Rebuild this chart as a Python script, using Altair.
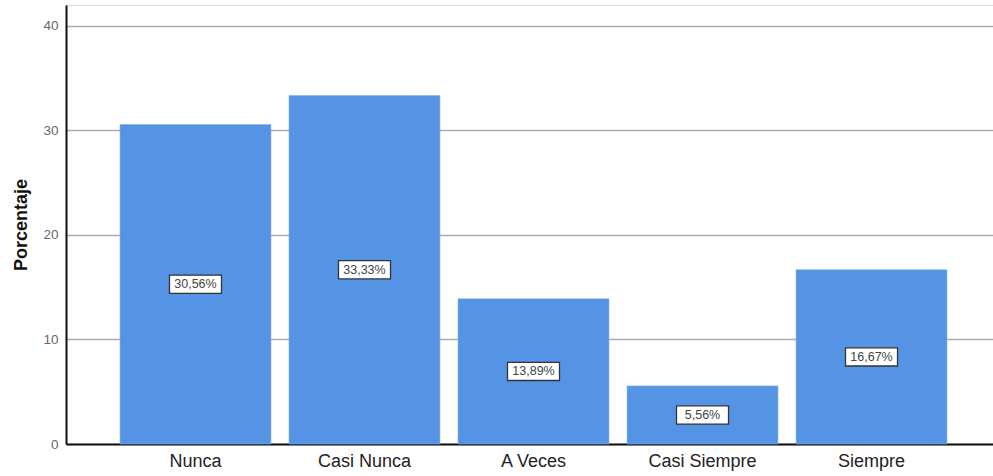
import altair as alt
import pandas as pd

# Response categories and their percentages
categorias = ["Nunca", "Casi Nunca", "A Veces", "Casi Siempre", "Siempre"]
porcentajes = [30.56, 33.33, 13.89, 5.56, 16.67]

df = pd.DataFrame({"categoria": categorias, "porcentaje": porcentajes})
df["mitad"] = df["porcentaje"] / 2
df["etiqueta"] = df["porcentaje"].map(lambda v: f"{v:.2f}".replace(".", ",") + "%")

FONT = "Liberation Sans"

x_enc = alt.X(
    "categoria:N",
    sort=categorias,
    title=None,
    scale=alt.Scale(paddingInner=0.107, paddingOuter=0.296, align=0.54),
    axis=alt.Axis(
        labelAngle=0,
        labelFontSize=18,
        labelColor="#222222",
        labelFont=FONT,
        labelPadding=8,
        ticks=False,
        domainColor="#111111",
        domainWidth=2,
        grid=False,
    ),
)

y_scale = alt.Scale(domain=[0, 42], nice=False)

bars = alt.Chart(df).mark_bar(color="#5594e4", stroke="#7eaeea", strokeWidth=0.6).encode(
    x=x_enc,
    y=alt.Y(
        "porcentaje:Q",
        scale=y_scale,
        title="Porcentaje",
        axis=alt.Axis(
            values=[0, 10, 20, 30, 40],
            labelFontSize=13.5,
            labelColor="#666666",
            labelFont=FONT,
            labelPadding=8,
            ticks=False,
            domainColor="#111111",
            domainWidth=2,
            gridColor="#ababab",
            gridWidth=1.5,
            titleFont=FONT,
            titleFontSize=18,
            titleFontWeight="bold",
            titleColor="#111111",
            titlePadding=12,
        ),
    ),
)

# Boxed value labels at mid-height of each bar
box_path = "M-1,-0.35 L1,-0.35 L1,0.35 L-1,0.35 Z"
cajas = alt.Chart(df).mark_point(
    shape=box_path, size=2704, filled=True, fill="white", stroke="#333333", strokeWidth=1.3, opacity=1
).encode(
    x=alt.X("categoria:N", sort=categorias),
    y=alt.Y("mitad:Q", scale=y_scale),
)

textos = alt.Chart(df).mark_text(fontSize=12.5, font=FONT, color="#444444", baseline="middle").encode(
    x=alt.X("categoria:N", sort=categorias),
    y=alt.Y("mitad:Q", scale=y_scale),
    text="etiqueta:N",
)

chart = (
    alt.layer(bars, cajas, textos)
    .properties(
        width=927,
        height=439,
        autosize=alt.AutoSizeParams(type="none"),
        padding={"left": 66, "top": 5, "right": 0, "bottom": 32},
    )
    .configure_view(stroke=None)
    .configure(background="white")
)

chart.save("out.html", embed_options={"renderer": "svg", "actions": False})
